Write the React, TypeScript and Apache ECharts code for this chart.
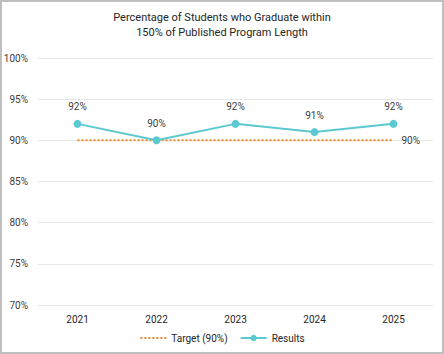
import React, { useEffect, useRef } from "react";
import * as echarts from "echarts";

const categories = ["2021", "2022", "2023", "2024", "2025"];
const results = [92, 90, 92, 91, 92];
const target = [90, 90, 90, 90, 90];
const yTicks = { min: 70, max: 100, interval: 5 };
const titleText = "Percentage of Students who Graduate within\n150% of Published Program Length";

export default function App() {
  const ref = useRef<HTMLDivElement>(null);
  useEffect(() => {
    document.body.style.margin = "0";
    const chart = echarts.init(ref.current!, undefined, { renderer: "svg" });
    const font = "Roboto, 'Liberation Sans', sans-serif";
    chart.setOption({
      animation: false,
      textStyle: { fontFamily: font },
      title: {
        text: titleText,
        left: "center",
        top: 5,
        textStyle: { fontSize: 11, fontWeight: "normal", color: "#262626", lineHeight: 15, fontFamily: font },
      },
      grid: { left: 38, right: 11, top: 58, bottom: 49 },
      xAxis: {
        type: "category",
        data: categories,
        boundaryGap: true,
        axisLine: { show: false },
        axisTick: { show: false },
        axisLabel: { color: "#262626", fontSize: 10, margin: 9, fontFamily: font },
      },
      yAxis: {
        type: "value",
        min: yTicks.min,
        max: yTicks.max,
        interval: yTicks.interval,
        axisLabel: { formatter: "{value}%", color: "#404040", fontSize: 10, margin: 10, fontFamily: font },
        splitLine: { lineStyle: { color: "#e6e6e6", width: 1 } },
      },
      legend: {
        bottom: 6,
        left: "center",
        itemWidth: 26,
        itemHeight: 8,
        itemGap: 12,
        textStyle: { color: "#262626", fontSize: 10, fontFamily: font },
        data: [
          { name: "Target (90%)", itemStyle: { opacity: 0 } },
          "Results",
        ],
      },
      series: [
        {
          name: "Target (90%)",
          type: "line",
          data: target,
          symbol: "none",
          lineStyle: { color: "#E98A2E", width: 2, type: [2, 2] },
          itemStyle: { color: "#E98A2E" },
          endLabel: {
            show: true,
            formatter: "90%",
            color: "#404040",
            fontSize: 10,
            distance: 8,
            offset: [0, 0],
            fontFamily: font,
          },
          z: 1,
        },
        {
          name: "Results",
          type: "line",
          data: results,
          symbol: "circle",
          symbolSize: 8,
          lineStyle: { color: "#5BC9D0", width: 2 },
          itemStyle: { color: "#5BC9D0" },
          label: {
            show: true,
            position: "top",
            distance: 8,
            formatter: "{c}%",
            color: "#404040",
            fontSize: 10,
            fontFamily: font,
          },
          z: 2,
        },
      ],
    });
    return () => chart.dispose();
  }, []);
  return (
    <div
      style={{
        position: "absolute",
        left: 0,
        top: 0,
        width: 444,
        height: 354,
        boxSizing: "border-box",
        border: "2px solid #bfbfbf",
        background: "#fff",
      }}
    >
      <div ref={ref} style={{ position: "absolute", left: -2, top: -2, width: 444, height: 354 }} />
    </div>
  );
}
